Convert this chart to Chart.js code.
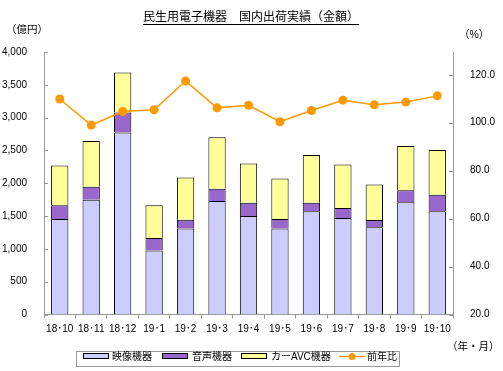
<!DOCTYPE html>
<html>
<head>
<meta charset="utf-8">
<script src="https://cdn.jsdelivr.net/npm/chart.js@4"></script>
<style>
  html, body { margin: 0; padding: 0; background: #fff; }
  #chart { display: block; }
</style>
</head>
<body>
<canvas id="chart" width="503" height="371"></canvas>
<script>
// ── Data ──────────────────────────────────────────
const months = ["18･10", "18･11", "18･12", "19･1", "19･2", "19･3", "19･4",
                "19･5", "19･6", "19･7", "19･8", "19･9", "19･10"];
const videoValues = [1456, 1747, 2772, 976, 1312, 1731, 1502, 1312, 1572, 1471, 1328, 1710, 1572];
const audioValues = [208, 199, 306, 190, 133, 184, 199, 144, 129, 153, 113, 184, 251];
const carAvcValues = [607, 697, 611, 498, 643, 785, 601, 617, 728, 663, 540, 673, 682];
const yoyValues = [109.9, 99.0, 104.7, 105.4, 117.4, 106.2, 107.3, 100.4, 105.1, 109.4, 107.5, 108.6, 111.2];

const seriesNames = ["映像機器", "音声機器", "カーAVC機器", "前年比"];
const leftTicks = [0, 500, 1000, 1500, 2000, 2500, 3000, 3500, 4000];
const rightTicks = [20, 40, 60, 80, 100, 120];

const FONT = "'Liberation Sans', 'Noto Sans CJK JP', sans-serif";
const AXIS_GRAY = "#999999";
const C_VIDEO = "#CCCCFF", C_AUDIO = "#9966CC", C_CAR = "#FFFF99", C_YOY = "#FF9900";

Chart.defaults.font.family = FONT;
Chart.defaults.font.size = 10;
Chart.defaults.color = "#000";

// ── Extras: title, unit labels, inward ticks, legend ──
const decorations = {
  id: "decorations",
  afterDraw(chart) {
    const ctx = chart.ctx;
    const area = chart.chartArea;
    ctx.save();

    // title (underlined)
    ctx.font = "12px " + FONT;
    ctx.fillStyle = "#000";
    ctx.textAlign = "center";
    ctx.textBaseline = "middle";
    const title = "民生用電子機器　国内出荷実績（金額）";
    ctx.fillText(title, 251, 17.5);
    const tw = ctx.measureText(title).width;
    ctx.strokeStyle = "#000";
    ctx.lineWidth = 1;
    ctx.beginPath();
    ctx.moveTo(251 - tw / 2, 24.5);
    ctx.lineTo(251 + tw / 2, 24.5);
    ctx.stroke();

    // units
    ctx.font = "10.5px " + FONT;
    ctx.textAlign = "left";
    ctx.fillText("（億円）", 6, 30);
    ctx.fillText("（%）", 459, 35);
    ctx.fillText("（年・月）", 447, 347);

    // inward ticks on both value axes
    ctx.strokeStyle = AXIS_GRAY;
    ctx.beginPath();
    leftTicks.forEach(v => {
      const y = Math.round(chart.scales.y.getPixelForValue(v)) + 0.5;
      ctx.moveTo(area.left, y);
      ctx.lineTo(area.left + 4, y);
    });
    rightTicks.forEach(v => {
      const y = Math.round(chart.scales.y1.getPixelForValue(v)) + 0.5;
      ctx.moveTo(area.right - 4, y);
      ctx.lineTo(area.right, y);
    });
    ctx.stroke();

    // legend
    ctx.strokeStyle = AXIS_GRAY;
    ctx.strokeRect(76.5, 351.5, 323, 15);
    ctx.font = "10px " + FONT;
    ctx.textBaseline = "middle";
    const boxes = [[83.5, C_VIDEO, 112], [162.5, C_AUDIO, 192], [241.5, C_CAR, 271]];
    boxes.forEach((b, i) => {
      ctx.fillStyle = b[1];
      ctx.fillRect(b[0], 353.5, 25, 5);
      ctx.strokeStyle = "#000";
      ctx.strokeRect(b[0], 353.5, 25, 5);
      ctx.fillStyle = "#000";
      ctx.fillText(seriesNames[i], b[2], 357);
    });
    ctx.strokeStyle = C_YOY;
    ctx.lineWidth = 1.5;
    ctx.beginPath();
    ctx.moveTo(339, 356.5);
    ctx.lineTo(365, 356.5);
    ctx.stroke();
    ctx.fillStyle = C_YOY;
    ctx.beginPath();
    ctx.arc(352, 356.5, 3.5, 0, Math.PI * 2);
    ctx.fill();
    ctx.fillStyle = "#000";
    ctx.fillText(seriesNames[3], 367, 357);

    ctx.restore();
  }
};

new Chart(document.getElementById("chart"), {
  data: {
    labels: months,
    datasets: [
      {
        type: "line",
        label: seriesNames[3],
        data: yoyValues,
        yAxisID: "y1",
        borderColor: C_YOY,
        backgroundColor: C_YOY,
        borderWidth: 1.5,
        pointRadius: 4.5,
        pointBorderWidth: 0,
        tension: 0,
        order: 0
      },
      {
        type: "bar", label: seriesNames[0], data: videoValues, yAxisID: "y",
        backgroundColor: C_VIDEO, borderColor: "#000", borderWidth: 1, order: 1
      },
      {
        type: "bar", label: seriesNames[1], data: audioValues, yAxisID: "y",
        backgroundColor: C_AUDIO, borderColor: "#000", borderWidth: 1, order: 1
      },
      {
        type: "bar", label: seriesNames[2], data: carAvcValues, yAxisID: "y",
        backgroundColor: C_CAR, borderColor: "#000", borderWidth: 1, order: 1
      }
    ]
  },
  options: {
    responsive: false,
    devicePixelRatio: 1,
    animation: false,
    layout: { padding: { top: 52, left: 0, right: 0, bottom: 0 } },
    datasets: { bar: { barPercentage: 0.55, categoryPercentage: 1 } },
    plugins: {
      legend: { display: false },
      tooltip: { enabled: false }
    },
    scales: {
      x: {
        stacked: true,
        grid: { drawOnChartArea: false, tickLength: 4, color: AXIS_GRAY },
        border: { color: AXIS_GRAY },
        ticks: { autoSkip: false, maxRotation: 0, padding: 5, font: { size: 10 } },
        afterFit: s => { s.height = 56.5; }
      },
      y: {
        stacked: true,
        position: "left",
        min: 0,
        max: 4000,
        grid: { display: false },
        border: { color: AXIS_GRAY },
        afterBuildTicks: s => { s.ticks = leftTicks.map(v => ({ value: v })); },
        ticks: { padding: 9, callback: v => v.toLocaleString("en-US") },
        afterFit: s => { s.width = 44; }
      },
      y1: {
        position: "right",
        min: 20,
        max: 129.5,
        grid: { display: false },
        border: { color: AXIS_GRAY },
        afterBuildTicks: s => { s.ticks = rightTicks.map(v => ({ value: v })); },
        ticks: { padding: 9, callback: v => v.toFixed(1) },
        afterFit: s => { s.width = 50; }
      }
    }
  },
  plugins: [decorations]
});
</script>
</body>
</html>
